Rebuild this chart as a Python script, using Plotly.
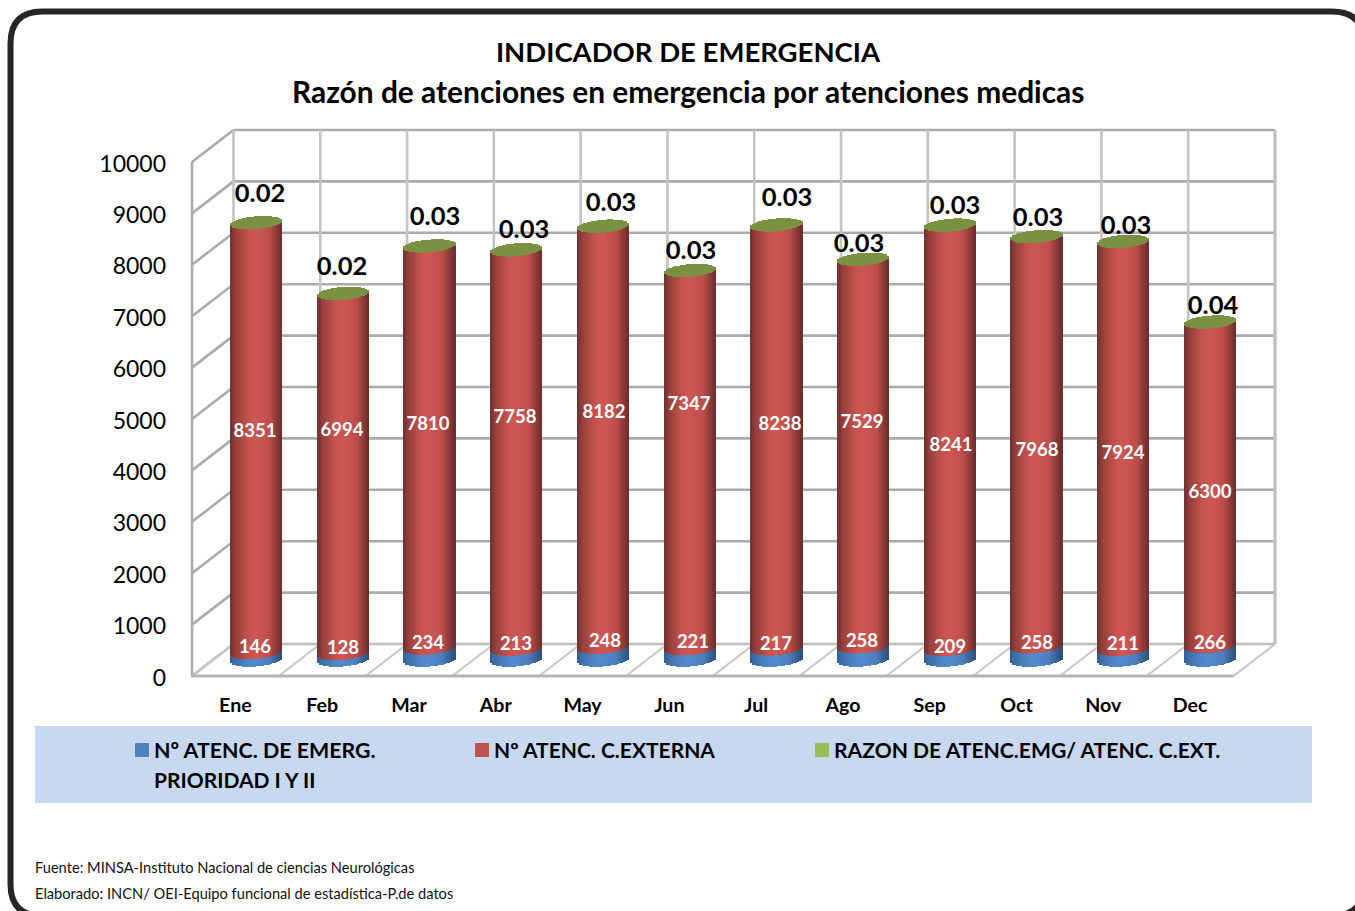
import numpy as np
import plotly.graph_objects as go

# ---- data ----
months = ["Ene", "Feb", "Mar", "Abr", "May", "Jun", "Jul", "Ago", "Sep", "Oct", "Nov", "Dec"]
emergencias = [146, 128, 234, 213, 248, 221, 217, 258, 209, 258, 211, 266]
externas = [8351, 6994, 7810, 7758, 8182, 7347, 8238, 7529, 8241, 7968, 7924, 6300]
razon = ["0.02", "0.02", "0.03", "0.03", "0.03", "0.03", "0.03", "0.03", "0.03", "0.03", "0.03", "0.04"]
y_ticks = list(range(0, 10001, 1000))

# ---- layout geometry (pixels of the 1355x911 page) ----
W, H = 1355, 911
BAR0_X, BAR_PITCH, BAR_HALF = 256.0, 86.73, 26.0
BASE_Y, PX_PER_UNIT = 659.5, 0.0514
FRONT_L, FRONT_R, FRONT_0, FRONT_TOP = 192.0, 1233.5, 676.0, 162.0
DX, DY = 41.5, 32.0
ELL_H, ELL_TILT = 7.0, 2.0
N_STRIPS = 26

# hand placed data labels in the original (x px, y px)
ext_lab_px = [(255, 432), (342, 431), (428, 425), (515, 418), (604, 413), (689, 405),
              (780, 425), (862, 423), (951, 446), (1037, 451), (1123, 454), (1210, 493)]
eme_lab_px = [(255, 648), (343, 649), (428, 644), (516, 645), (605, 642), (693, 643),
              (776, 645), (862, 642), (950, 648), (1037, 644), (1123, 645), (1210, 644)]
raz_lab_px = [(260, 196), (342, 269), (435, 219), (524, 232), (611, 205), (691, 253),
              (787, 200), (859, 246), (955, 208), (1038, 220), (1126, 228), (1213, 308)]

FONT = "Lato"


def ux(px):
    return (px - BAR0_X) / BAR_PITCH


def uy(py):
    return (BASE_Y - py) / PX_PER_UNIT


def px(x):
    return x / W


def py(y):
    return 1 - y / H


def shade(u, stops):
    us = [s[0] for s in stops]
    c = [np.interp(u, us, [s[1][i] for s in stops]) for i in range(3)]
    return "rgb(%d,%d,%d)" % tuple(int(round(v)) for v in c)


RED = [(-1, (108, 48, 46)), (-0.8, (150, 62, 58)), (-0.3, (198, 83, 79)), (0, (205, 87, 83)),
       (0.5, (190, 78, 74)), (0.85, (130, 54, 52)), (1, (104, 45, 43))]
BLUE = [(-1, (50, 95, 145)), (-0.8, (62, 112, 168)), (-0.3, (80, 135, 200)), (0, (82, 138, 205)),
        (0.5, (76, 125, 190)), (0.85, (52, 92, 140)), (1, (42, 78, 120))]
GREEN = "rgb(122,145,66)"

eme = np.array(emergencias, float)
ext = np.array(externas, float)
total = eme + ext
centers = np.arange(len(months), dtype=float)

fig = go.Figure()

# cylinders, one vertical strip at a time so the shading and the curved ends come out
sw = 2 * BAR_HALF / BAR_PITCH / N_STRIPS
hv = ELL_H / PX_PER_UNIT
tv = ELL_TILT / PX_PER_UNIT
for k in range(N_STRIPS):
    u = -1 + (k + 0.5) * 2 / N_STRIPS
    s = np.sqrt(1 - u * u)
    x = centers + u * BAR_HALF / BAR_PITCH
    lo = -hv * s + tv * u
    edge = tv * u
    common = dict(x=x, width=sw * 1.12, showlegend=False, hoverinfo="skip", marker_line_width=0)
    fig.add_trace(go.Bar(base=lo + 0 * eme, y=eme, marker_color=shade(u, BLUE), **common))
    fig.add_trace(go.Bar(base=eme + lo, y=total + edge - (eme + lo), marker_color=shade(u, RED), **common))
    fig.add_trace(go.Bar(base=total + edge - hv * 0.92 * s, y=0 * total + 2 * hv * 0.92 * s,
                         marker_color=GREEN, **common))

# data labels
def label_trace(vals, pos, size, color):
    return go.Scatter(x=[ux(p[0]) for p in pos], y=[uy(p[1]) for p in pos], mode="text",
                      text=[str(v) for v in vals], textposition="middle center",
                      textfont=dict(family=FONT, size=size, color=color, weight="bold"),
                      showlegend=False, hoverinfo="skip")


fig.add_trace(label_trace(externas, ext_lab_px, 18.5, "white"))
fig.add_trace(label_trace(emergencias, eme_lab_px, 18.5, "white"))
fig.add_trace(label_trace(razon, raz_lab_px, 25.5, "black"))

# carrier of the front axes (tick labels of value axis and months)
fig.add_trace(go.Scatter(x=months, y=list(total), xaxis="x2", yaxis="y2", mode="markers",
                         marker=dict(opacity=0, size=1), showlegend=False, hoverinfo="skip"))

# ---- decorative 3-D box ----
shapes = []
GH, GV = "#ababab", "#c4c4c4"


def seg(x0, y0, x1, y1, color, width=2.6):
    shapes.append(dict(type="line", xref="paper", yref="paper", layer="below",
                       x0=px(x0), y0=py(y0), x1=px(x1), y1=py(y1), line=dict(color=color, width=width)))


unit_px = (FRONT_0 - FRONT_TOP) / 10000
for v in y_ticks:
    yf = FRONT_0 - v * unit_px
    seg(FRONT_L, yf, FRONT_L + DX, yf - DY, GH)
    seg(FRONT_L + DX, yf - DY, FRONT_R + DX, yf - DY, GH if v else "#bdbdbd")
pitch = (FRONT_R - FRONT_L) / 12
for i in range(13):
    xf = FRONT_L + i * pitch
    seg(xf + DX, FRONT_TOP - DY, xf + DX, FRONT_0 - DY, GV)
    seg(xf, FRONT_0, xf + DX, FRONT_0 - DY, "#c8c8c8", 2.2)
seg(FRONT_L, FRONT_TOP, FRONT_L, FRONT_0, GH)
seg(FRONT_L - 1, FRONT_0, FRONT_R, FRONT_0, "#b4b4b4", 3)
seg(FRONT_R + DX, FRONT_TOP - DY, FRONT_R + DX, FRONT_0 - DY, "#c0c0c0", 3)

# legend band
shapes.append(dict(type="rect", xref="paper", yref="paper", layer="below",
                   x0=px(35), x1=px(1312), y0=py(803), y1=py(726),
                   fillcolor="#C6D9F1", line_width=0))
# rounded outer frame
L, T, R, B, r = 10.5, 11.5, 1364.0, 916.0, 32.0
path = (f"M {px(L+r)} {py(T)} L {px(R-r)} {py(T)} Q {px(R)} {py(T)} {px(R)} {py(T+r)} "
        f"L {px(R)} {py(B-r)} Q {px(R)} {py(B)} {px(R-r)} {py(B)} L {px(L+r)} {py(B)} "
        f"Q {px(L)} {py(B)} {px(L)} {py(B-r)} L {px(L)} {py(T+r)} Q {px(L)} {py(T)} {px(L+r)} {py(T)} Z")
shapes.append(dict(type="path", xref="paper", yref="paper", layer="below", path=path,
                   line=dict(color="#262626", width=6), fillcolor="rgba(0,0,0,0)"))


def text_at(text, x, y, size, anchor="left", bold=True, color="black"):
    return dict(text=text, xref="paper", yref="paper", x=px(x), y=py(y), xanchor=anchor, yanchor="middle",
                showarrow=False, borderpad=0, borderwidth=0,
                font=dict(family=FONT, size=size, color=color, weight="bold" if bold else "normal"))


annotations = [
    text_at("Razón de atenciones en emergencia por atenciones medicas", 688, 90.5, 29.9, "center"),
    text_at("Fuente: MINSA-Instituto Nacional de ciencias Neurológicas", 35, 867.5, 14.65, bold=False, color="#111111"),
    text_at("Elaborado: INCN/ OEI-Equipo funcional de estadística-P.de datos", 35, 893.5, 14.65, bold=False, color="#111111"),
]

# legend key inside the band
legend_items = [("Nº ATENC. DE EMERG.", "#4F81BD", 135, 21.4), ("Nº ATENC. C.EXTERNA", "#C0504D", 475, 21.0),
                ("RAZON DE ATENC.EMG/ ATENC. C.EXT.", "#9BBB59", 815, 21.1)]
for name, col, x0, fs in legend_items:
    shapes.append(dict(type="rect", xref="paper", yref="paper", layer="below",
                       x0=px(x0), x1=px(x0 + 14), y0=py(757), y1=py(743), fillcolor=col, line_width=0))
    annotations.append(text_at(name, x0 + 19, 749.5, fs))
annotations.append(text_at("PRIORIDAD I Y II", 154, 779.5, 21.0))

TICK_SHIFT = 1.5  # value-axis labels sit slightly lower than the wall lines
fig.update_layout(
    width=W, height=H, margin=dict(l=0, r=0, t=0, b=0, autoexpand=False), autosize=False, showlegend=False,
    paper_bgcolor="white", plot_bgcolor="rgba(0,0,0,0)", barmode="overlay", bargap=0,
    title=dict(text="INDICADOR DE EMERGENCIA", x=px(688), y=py(52), xanchor="center", yanchor="middle",
               xref="container", yref="container", font=dict(family=FONT, size=27.5, color="black", weight="bold")),
    xaxis=dict(domain=[0, 1], range=[ux(0), ux(W)], visible=False, fixedrange=True),
    yaxis=dict(domain=[0, 1], range=[uy(H), uy(0)], visible=False, fixedrange=True),
    xaxis2=dict(domain=[px(FRONT_L), px(FRONT_R)], anchor="y2", type="category", categoryorder="array",
                categoryarray=months, range=[-0.5, 11.5], showgrid=False, zeroline=False, showline=False,
                ticks="", ticklabelstandoff=14, fixedrange=True,
                tickfont=dict(family=FONT, size=19.6, color="black", weight="bold")),
    yaxis2=dict(domain=[py(FRONT_0 + TICK_SHIFT), py(FRONT_TOP + TICK_SHIFT)], anchor="x2", range=[0, 10000],
                tickvals=y_ticks, tickformat="d", showgrid=False, zeroline=False, showline=False, ticks="",
                ticklabelstandoff=25, fixedrange=True,
                tickfont=dict(family=FONT, size=23, color="black")),
    shapes=shapes, annotations=annotations,
)

fig.write_html("out.html", config=dict(displayModeBar=False),
               post_script="document.body.style.margin='0';document.body.style.overflow='hidden';")
